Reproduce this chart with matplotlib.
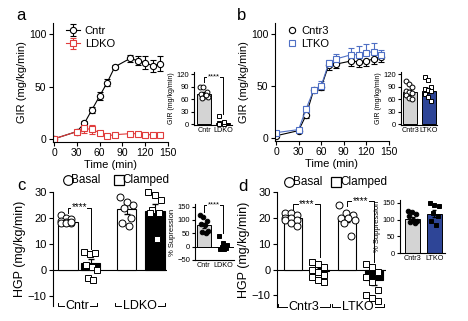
import matplotlib
matplotlib.use("Agg")
import matplotlib.pyplot as plt
from matplotlib.lines import Line2D
import numpy as np

plt.rcParams['font.family'] = ['Liberation Sans', 'DejaVu Sans']

W, H = 468, 321

# ---- data ----
time = [0, 30, 40, 50, 60, 70, 80, 100, 110, 120, 130, 140]
cntr_gir = [0, 7, 15, 28, 41, 54, 69, 77, 75, 73, 70, 72]
cntr_gir_err = [0, 1, 2, 3, 4, 3, 2, 3, 4, 6, 6, 7]
ldko_gir = [0, 7, 10, 9, 6, 3, 4, 5, 5, 4, 4, 4]
ldko_gir_err = [0, 1, 4, 4, 2, 1, 2, 2, 2, 2, 1, 1]

cntr3_gir = [2, 7, 22, 46, 49, 70, 71, 74, 73, 74, 76, 78]
cntr3_gir_err = [1, 1, 3, 2, 3, 5, 4, 5, 5, 5, 5, 5]
ltko_gir = [5, 8, 28, 46, 50, 72, 76, 80, 80, 82, 83, 80]
ltko_gir_err = [1, 1, 3, 2, 5, 3, 5, 6, 8, 8, 8, 5]

# inset a / b : mean GIR
ins_a_mean = [73, 3]
ins_a_err = [4, 3]
ins_a_pts = [[90, 90, 78, 72, 68, 65, 62, 70], [20, 3, 2, 1, 0, 4]]
ins_b_mean = [76, 80]
ins_b_err = [5, 6]
ins_b_pts = [[103, 97, 90, 80, 78, 75, 70, 62, 60],
             [112, 105, 90, 85, 82, 80, 72, 65, 55]]

# panel c : HGP
c_mean = [18.5, 2.5, 23.5, 22.5]
c_err = [0.6, 1.5, 2, 3]
c_pts = [[21, 20, 19.5, 19, 18.5, 18, 18, 18, 18.5],
         [7, 6, 6.5, 2, 1, 0, -3, -4],
         [28, 26, 25, 24, 20, 18, 17],
         [30, 29, 27, 23, 22, 22, 12]]
c_groups = ['Cntr', 'LDKO']
ins_c_mean = [80, 0]
ins_c_err = [10, 8]
ins_c_pts = [[120, 110, 95, 85, 80, 60, 55, 50], [40, 15, 5, 0, -5, -10, -10]]

# panel d : HGP
d_mean = [20, -0.5, 20, -4]
d_err = [1, 1, 1.5, 2]
d_pts = [[22, 22, 21, 20, 20, 19, 19, 18, 17],
         [3, 2, 1, 0, -1, -2, -3, -4, -5],
         [25, 22, 21, 20, 20, 19, 18, 13],
         [2, 1, -1, -3, -5, -8, -10, -11, -12]]
d_groups = ['Cntr3', 'LTKO']
ins_d_mean = [102, 118]
ins_d_err = [5, 10]
ins_d_pts = [[125, 122, 118, 110, 100, 95, 92, 90], [150, 145, 140, 120, 110, 95, 85]]

RED = '#e03c3c'
BLUE = '#4f6fc4'
DBLUE = '#2e4597'
GREY = '#d4d4d4'


def box(l, t, r, b):
    return [l / W, 1 - b / H, (r - l) / W, (b - t) / H]


def style(ax, fs=7.5, tl=3):
    for s in ['top', 'right']:
        ax.spines[s].set_visible(False)
    for s in ['left', 'bottom']:
        ax.spines[s].set_linewidth(0.8)
    ax.tick_params(labelsize=fs, length=tl, width=0.8, pad=1.5)


def jitter(n, w):
    order = [(i * 3) % n for i in range(n)]
    return (np.array(order) / max(n - 1, 1) - 0.5) * 2 * w


def points(ax, x, vals, marker, mfc, mec='k', ms=3.5, w=0.22):
    xs = x + jitter(len(vals), w)
    ax.plot(xs, vals, marker, ls='none', mfc=mfc, mec=mec, ms=ms, mew=0.7,
            zorder=4, clip_on=False)


def bracket(ax, x1, x2, y, yl, yr, fs=6):
    ax.plot([x1, x1, x2, x2], [yl, y, y, yr], color='k', lw=0.7, clip_on=False)
    ax.text((x1 + x2) / 2, y, '****', ha='center', va='center', fontsize=fs,
            bbox=dict(fc='white', ec='none', pad=0.3), zorder=5)


def group_label(ax, x1, x2, y, txt, up):
    ax.plot([x1, x1, x2, x2], [y + up, y, y, y + up], color='k', lw=0.7,
            clip_on=False)
    ax.text((x1 + x2) / 2, y, txt, ha='center', va='center', fontsize=9,
            bbox=dict(fc='white', ec='none', pad=0.5), clip_on=False)


fig = plt.figure(figsize=(W / 100, H / 100), dpi=100)

# ---------- a ----------
ax = fig.add_axes(box(52.5, 23, 168, 142))
ax.errorbar(time, cntr_gir, yerr=cntr_gir_err, color='k', lw=0.8, marker='o',
            ms=4.5, mfc='white', mew=0.8, capsize=2, elinewidth=0.8, label='Cntr')
ax.errorbar(time, ldko_gir, yerr=ldko_gir_err, color=RED, lw=0.8, marker='s',
            ms=4.5, mfc='white', mew=0.8, capsize=2, elinewidth=0.8, label='LDKO')
ax.set_xlim(-2, 150)
ax.set_ylim(-3, 111)
ax.set_xticks(range(0, 151, 30))
ax.set_yticks([0, 50, 100])
ax.set_xlabel('Time (min)', fontsize=8, labelpad=1)
ax.set_ylabel('GIR (mg/kg/min)', fontsize=8, labelpad=1)
style(ax)
ax.legend(loc='upper left', bbox_to_anchor=(0.03, 1.06), frameon=False,
          fontsize=8, handlelength=1.3, handletextpad=0.4, labelspacing=0.3)
fig.text(21 / W, 1 - 15 / H, 'a', fontsize=12, ha='center', va='center')

ax = fig.add_axes(box(194, 72, 232, 125))
ax.bar([0, 1], ins_a_mean, width=0.74, color=[GREY, RED], edgecolor='k', lw=0.7)
ax.errorbar([0, 1], ins_a_mean, yerr=ins_a_err, fmt='none', ecolor='k',
            elinewidth=0.7, capsize=1.5)
points(ax, 0, ins_a_pts[0], 'o', 'white')
points(ax, 1, ins_a_pts[1], 's', 'white', mec='k', ms=3)
bracket(ax, 0, 1, 113, 100, 25, fs=5.5)
ax.set_xlim(-0.53, 1.47)
ax.set_ylim(-2, 125)
ax.set_yticks(range(0, 121, 30))
ax.set_xticks([0, 1])
ax.set_xticklabels(['Cntr', 'LDKO'])
ax.set_ylabel('GIR (mg/kg/min)', fontsize=5, labelpad=1)
style(ax, fs=5.5, tl=2)
ax.tick_params(axis='x', length=0, labelsize=5.2)

# ---------- b ----------
ax = fig.add_axes(box(274.5, 23, 389, 141))
n = len(time)
ax.errorbar(time, cntr3_gir, yerr=[cntr3_gir_err, [0] * n], color='k', lw=0.8,
            marker='o', ms=4.5, mfc='white', mew=0.8, capsize=2, elinewidth=0.8)
ax.errorbar(time, ltko_gir, yerr=[[0] * n, ltko_gir_err], color=BLUE, lw=0.8,
            marker='s', ms=5, mfc='white', mew=0.8, capsize=2, elinewidth=0.8)
ax.set_xlim(-2, 150)
ax.set_ylim(-3, 110.5)
ax.set_xticks(range(0, 151, 30))
ax.set_yticks([0, 50, 100])
ax.set_xlabel('Time (min)', fontsize=8, labelpad=1)
ax.set_ylabel('GIR (mg/kg/min)', fontsize=8, labelpad=1)
style(ax)
handles = [Line2D([], [], ls='none', marker='o', ms=4.5, mfc='white', mec='k',
                  mew=0.8),
           Line2D([], [], ls='none', marker='s', ms=5, mfc='white', mec=BLUE,
                  mew=0.8)]
ax.legend(handles, ['Cntr3', 'LTKO'], loc='upper left',
          bbox_to_anchor=(0.03, 1.06), frameon=False, fontsize=8,
          handlelength=0.8, handletextpad=0.4, labelspacing=0.3)
fig.text(242 / W, 1 - 15 / H, 'b', fontsize=12, ha='center', va='center')

ax = fig.add_axes(box(401, 72, 437, 125))
ax.bar([0, 1], ins_b_mean, width=0.76, color=[GREY, DBLUE], edgecolor='k', lw=0.7)
ax.errorbar([0, 1], ins_b_mean, yerr=ins_b_err, fmt='none', ecolor='k',
            elinewidth=0.7, capsize=1.5)
points(ax, 0, ins_b_pts[0], 'o', 'white')
points(ax, 1, ins_b_pts[1], 's', 'white', ms=3)
ax.set_xlim(-0.5, 1.45)
ax.set_ylim(-2, 125)
ax.set_yticks(range(0, 121, 30))
ax.set_xticks([0, 1])
ax.set_xticklabels(['Cntr3', 'LTKO'])
ax.set_ylabel('GIR (mg/kg/min)', fontsize=5, labelpad=1)
style(ax, fs=5.5, tl=2)
ax.tick_params(axis='x', length=0, labelsize=5.2)


# ---------- c / d main ----------
def hgp_panel(box_px, xlim, xpos, width, mean, err, pts, groups, ylim,
              brackets, leg_xy, glabel):
    ax = fig.add_axes(box(*box_px))
    colors = ['white', 'k', 'white', 'k']
    ax.bar(xpos, mean, width=width, color=colors, edgecolor='k', lw=0.8, zorder=2)
    ax.errorbar(xpos, mean, yerr=err, fmt='none', ecolor='k', elinewidth=0.8,
                capsize=2, zorder=3)
    for i in range(4):
        if i % 2 == 0:
            points(ax, xpos[i], pts[i], 'o', 'white', ms=5, w=0.3)
        else:
            points(ax, xpos[i], pts[i], 's', 'white', ms=5, w=0.3)
    ax.axhline(0, color='k', lw=0.8, zorder=1)
    ax.set_xlim(*xlim)
    ax.set_ylim(*ylim)
    ax.set_yticks([-10, 0, 10, 20, 30])
    ax.set_xticks([])
    ax.spines['bottom'].set_visible(False)
    ax.set_ylabel('HGP (mg/kg/min)', fontsize=9, labelpad=1)
    style(ax, fs=8)
    for (x1, x2, y, yl, yr) in brackets:
        bracket(ax, x1, x2, y, yl, yr, fs=7)
    # legend
    ax.plot([leg_xy[0]], [leg_xy[2]], 'o', ms=7, mfc='white', mec='k', mew=0.8,
            clip_on=False)
    ax.text(leg_xy[0] + 0.15, leg_xy[2], 'Basal', fontsize=8.5, va='center')
    ax.plot([leg_xy[1]], [leg_xy[2]], 's', ms=7, mfc='white', mec='k', mew=0.9,
            clip_on=False)
    ax.text(leg_xy[1] + 0.15, leg_xy[2], 'Clamped', fontsize=8.5, va='center')
    for (x1, x2), g in zip(glabel, groups):
        group_label(ax, x1, x2, ylim[0], g, 1.2)
    return ax


hgp_panel((53, 192, 167, 306), (-0.67, 4.4), [0, 1, 2.6, 3.85], 0.88,
          c_mean, c_err, c_pts, c_groups, (-14, 30),
          [(0, 1, 24, 22, 8)], (0, 2.25, 34.5),
          [(-0.45, 1.3), (2.1, 4.3)])
fig.text(21 / W, 1 - 186 / H, 'c', fontsize=12, ha='center', va='center')

hgp_panel((277, 192, 386, 307), (-0.6, 3.44), [0, 1, 2, 3], 0.68,
          d_mean, d_err, d_pts, d_groups, (-14.5, 30),
          [(0, 1, 25.4, 23, 5), (2, 3, 26.5, 24.5, 3)], (-0.15, 1.6, 34),
          [(-0.55, 1.35), (1.45, 3.35)])
fig.text(243 / W, 1 - 187 / H, 'd', fontsize=12, ha='center', va='center')

# ---------- c inset ----------
ax = fig.add_axes(box(195, 204, 234, 260))
ax.bar([0, 1], ins_c_mean, width=0.74, color=[GREY, 'white'], edgecolor='k', lw=0.7)
ax.errorbar([0, 1], ins_c_mean, yerr=ins_c_err, fmt='none', ecolor='k',
            elinewidth=0.7, capsize=1.5)
points(ax, 0, ins_c_pts[0], 'o', 'k', ms=3.3)
points(ax, 1, ins_c_pts[1], 's', 'k', ms=3.3)
ax.axhline(0, color='k', lw=0.7)
bracket(ax, 0, 1, 155, 130, 50, fs=5.5)
ax.set_xlim(-0.47, 1.58)
ax.set_ylim(-50, 160)
ax.set_yticks([-50, 0, 50, 100, 150])
ax.set_xticks([0, 1])
ax.set_xticklabels(['Cntr', 'LDKO'])
ax.set_ylabel('% Supression', fontsize=5.5, labelpad=1)
style(ax, fs=5.5, tl=2)
ax.tick_params(axis='x', length=0, labelsize=5.2)

# ---------- d inset ----------
ax = fig.add_axes(box(400, 200, 445, 253))
ax.bar([0, 1], ins_d_mean, width=0.68, color=[GREY, DBLUE], edgecolor='k', lw=0.7)
ax.errorbar([0, 1], ins_d_mean, yerr=ins_d_err, fmt='none', ecolor='k',
            elinewidth=0.7, capsize=1.5)
points(ax, 0, ins_d_pts[0], 'o', 'k', ms=3.3)
points(ax, 1, ins_d_pts[1], 's', 'k', ms=3.3)
ax.set_xlim(-0.57, 1.48)
ax.set_ylim(0, 159)
ax.set_yticks([0, 50, 100, 150])
ax.set_xticks([0, 1])
ax.set_xticklabels(['Cntr3', 'LTKO'])
ax.set_ylabel('% Suppression', fontsize=5.5, labelpad=1)
style(ax, fs=5.5, tl=2)
ax.tick_params(axis='x', length=0, labelsize=5.2)

fig.savefig('out.png', dpi=100)
